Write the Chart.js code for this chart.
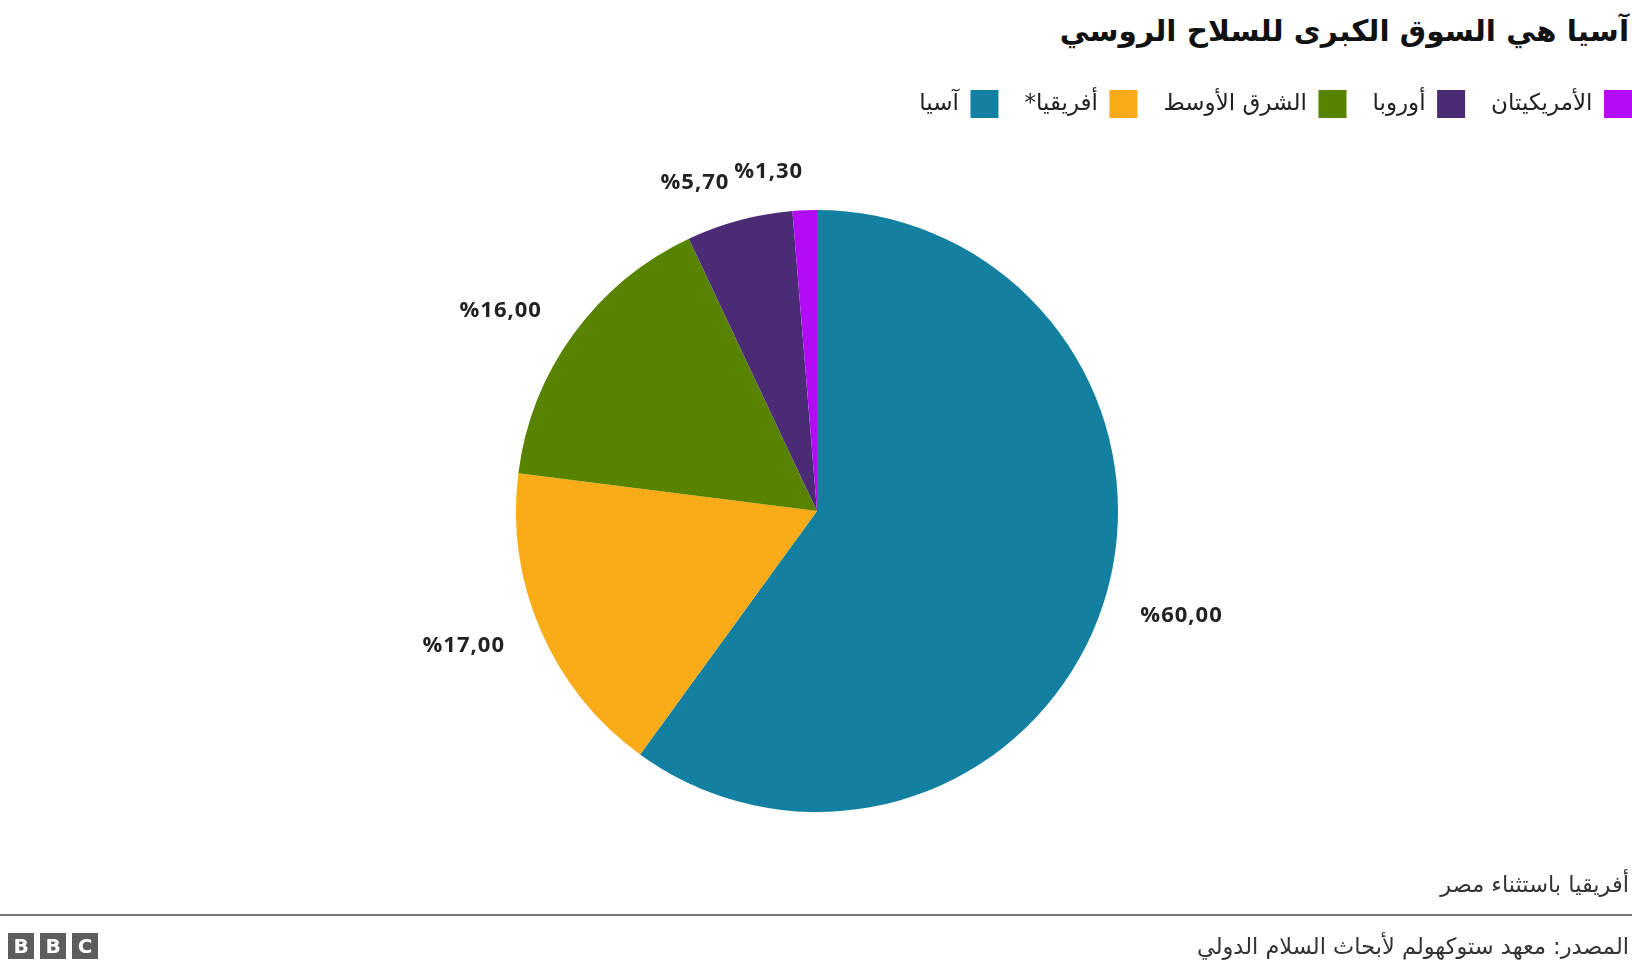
<!DOCTYPE html>
<html lang="ar">
<head>
<meta charset="utf-8">
<title>آسيا هي السوق الكبرى للسلاح الروسي</title>
<script src="https://cdn.jsdelivr.net/npm/chart.js@4/dist/chart.umd.min.js"></script>
<style>
    html, body { margin: 0; padding: 0; background: #fff; }
    body { width: 1632px; height: 972px; position: relative; overflow: hidden; font-family: "DejaVu Sans", sans-serif; }
    .title { position: absolute; right: 3px; top: 14px; direction: rtl; font-size: 29.5px; font-weight: bold; color: #111; white-space: nowrap; }
    .chart-wrap { position: absolute; left: -24px; top: 0; width: 1682px; height: 972px; }
    .note { position: absolute; right: 3px; top: 871px; direction: rtl; font-size: 22.5px; color: #333; }
    .rule { position: absolute; left: 0; top: 914px; width: 1632px; height: 2px; background: #777; }
    .source { position: absolute; right: 3px; top: 933px; direction: rtl; font-size: 22.5px; color: #333; }
    .bbc { position: absolute; left: 8px; top: 933px; display: flex; gap: 6px; }
    .bbc span { width: 26px; height: 26px; background: #5d5d5d; color: #fff; font: bold 20px "DejaVu Sans", sans-serif; line-height: 26px; text-align: center; }
</style>
</head>
<body>
<div class="title">آسيا هي السوق الكبرى للسلاح الروسي</div>
<div class="chart-wrap"><canvas id="pieChart"></canvas></div>
<div class="note">أفريقيا باستثناء مصر</div>
<div class="rule"></div>
<div class="source">المصدر: معهد ستوكهولم لأبحاث السلام الدولي</div>
<div class="bbc"><span>B</span><span>B</span><span>C</span></div>

<script>
// حصة كل منطقة من صادرات السلاح الروسية (%)
const regions = ['آسيا', 'أفريقيا*', 'الشرق الأوسط', 'أوروبا', 'الأمريكيتان'];
const shares = [60, 17, 16, 5.7, 1.3];
const colors = ['#1380a1', '#faab18', '#588300', '#4c2b76', '#b20bf6'];

const formatShare = v => '%' + v.toFixed(2).replace('.', ',');

// labels outside each slice, anchored on the side facing away from the pie
const outsideLabels = {
    id: 'outsideLabels',
    afterDatasetsDraw(chart) {
        const ctx = chart.ctx;
        const meta = chart.getDatasetMeta(0);
        ctx.save();
        ctx.font = 'bold 22px "Open Sans", sans-serif';
        ctx.letterSpacing = '1px';
        ctx.fillStyle = '#222';
        ctx.textBaseline = 'middle';
        meta.data.forEach((arc, i) => {
            const p = arc.getProps(['x', 'y', 'startAngle', 'endAngle', 'outerRadius'], true);
            const mid = (p.startAngle + p.endAngle) / 2;
            const r = p.outerRadius + 39;
            const cx = Math.cos(mid), cy = Math.sin(mid);
            ctx.textAlign = cx >= 0 ? 'left' : 'right';
            ctx.fillText(formatShare(shares[i]), p.x + cx * r, p.y + cy * r);
        });
        ctx.restore();
    }
};

new Chart(document.getElementById('pieChart'), {
    type: 'pie',
    data: {
        labels: regions,
        datasets: [{
            data: shares,
            backgroundColor: colors,
            borderWidth: 0
        }]
    },
    options: {
        responsive: true,
        maintainAspectRatio: false,
        animation: false,
        radius: 301,
        layout: { padding: { top: 64, bottom: 78 } },
        plugins: {
            legend: {
                position: 'top',
                align: 'start',
                rtl: true,
                textDirection: 'rtl',
                reverse: true,
                labels: {
                    boxWidth: 28,
                    boxHeight: 28,
                    padding: 26,
                    color: '#222',
                    font: { family: '"DejaVu Sans", sans-serif', size: 23 }
                }
            },
            tooltip: { enabled: false }
        }
    },
    plugins: [outsideLabels]
});
</script>
</body>
</html>
